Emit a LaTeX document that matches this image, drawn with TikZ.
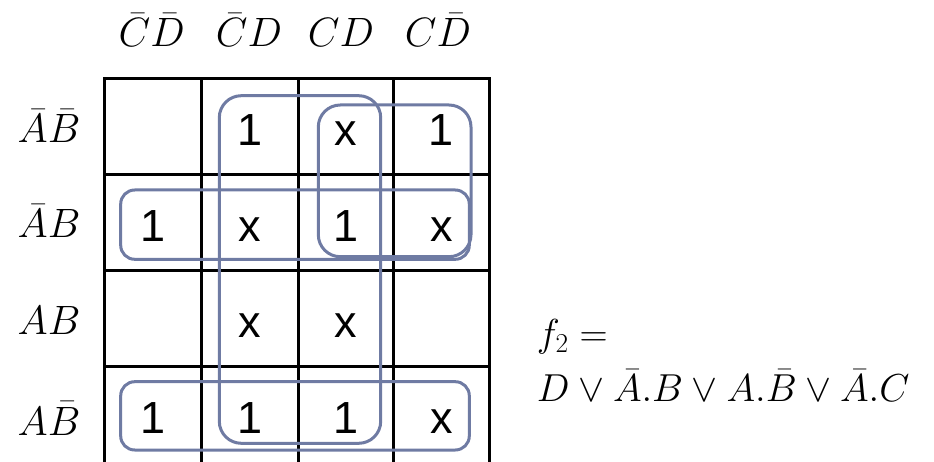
\RequirePackage{fix-cm}
\documentclass[tikz,border=0pt]{standalone}
\usepackage{fontspec}
\setmainfont{Liberation Sans}
\definecolor{loopcol}{RGB}{111,123,163}
\tikzset{
  gridline/.style={line width=3pt, black},
  kloop/.style={line width=3pt, loopcol},
  cell/.style={anchor=base, inner sep=0pt, font=\fontsize{45}{50}\selectfont},
  hdr/.style={anchor=base, inner sep=0pt, font=\fontsize{41}{50}\selectfont},
  rowlab/.style={anchor=base, inner sep=0pt, font=\fontsize{41}{50}\selectfont},
  formula/.style={anchor=base west, inner sep=0pt, font=\fontsize{39}{46}\selectfont},
}
\begin{document}
\begin{tikzpicture}[x=1pt,y=-1pt]
\useasboundingbox (0,0) rectangle (934,462);
\begin{scope}
\clip (0,0) rectangle (934,462);
% grid
\foreach \x in {104.5,201.5,298,393.5,489} \draw[gridline] (\x,77.5) -- (\x,470);
\foreach \y in {79,175,271,366.5} \draw[gridline] (103,\y) -- (490.5,\y);
% loops
\draw[kloop, rounded corners=22pt] (219.3,95.7) rectangle (380.7,443.3);
\draw[kloop, rounded corners=22pt] (318.3,105) rectangle (471,256.7);
\draw[kloop, rounded corners=14pt] (120.7,190) rectangle (469.3,259.3);
\draw[kloop, rounded corners=14pt] (120.7,381.7) rectangle (469.3,450);
\end{scope}
% column headers
\node[hdr] (h1) at (151.7,46.7) {$\bar{C}\bar{D}$};
\node[hdr] (h2) at (249,46.7) {$\bar{C}D$};
\node[hdr] (h3) at (341,46.7) {$CD$};
\node[hdr] (h4) at (438,46.7) {$C\bar{D}$};
% row labels
\node[rowlab] (r1) at (49,142.7) {$\bar{A}\bar{B}$};
\node[rowlab] (r2) at (49,238) {$\bar{A}B$};
\node[rowlab] (r3) at (49,334) {$AB$};
\node[rowlab] (r4) at (49,435) {$A\bar{B}$};
% cells
\node[cell] (c12) at (249.75,145.5) {1};
\node[cell] (c13) at (345.75,145.5) {x};
\node[cell] (c14) at (441.25,145.5) {1};
\node[cell] (c21) at (153,241.5) {1};
\node[cell] (c22) at (249.75,241.5) {x};
\node[cell] (c23) at (345.75,241.5) {1};
\node[cell] (c24) at (441.25,241.5) {x};
\node[cell] (c32) at (249.75,337.5) {x};
\node[cell] (c33) at (345.75,337.5) {x};
\node[cell] (c41) at (153,433) {1};
\node[cell] (c42) at (249.75,433) {1};
\node[cell] (c43) at (345.75,433) {1};
\node[cell] (c44) at (441.25,433) {x};
% formula
\node[formula] (f1) at (536.7,346.7) {$f_2 =$};
\node[formula] (f2) at (536.7,401.7) {$D \vee \bar{A}.B \vee A.\bar{B} \vee \bar{A}.C$};
\end{tikzpicture}
\end{document}
